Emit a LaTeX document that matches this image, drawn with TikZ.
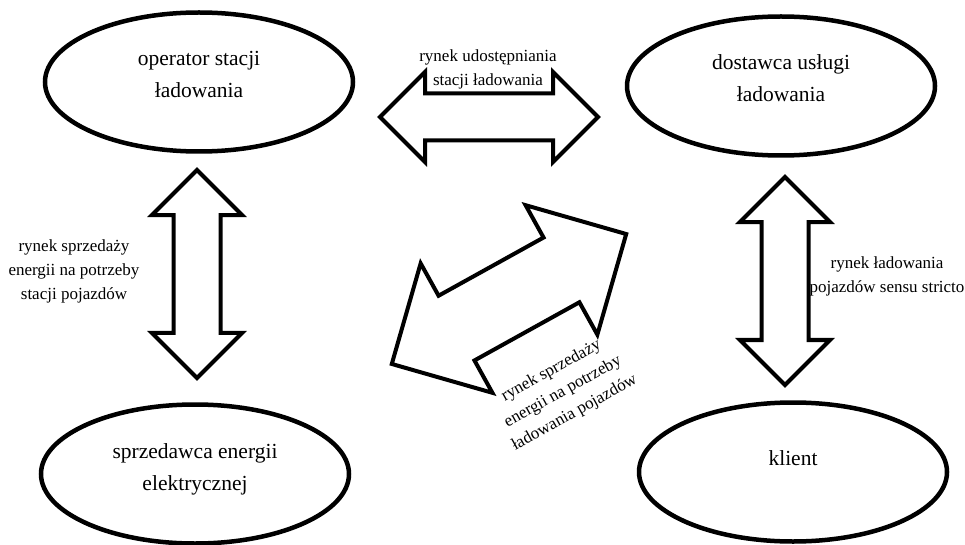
\documentclass[tikz,border=0pt]{standalone}
\usepackage{fontspec}
\setmainfont{Liberation Serif}
\usetikzlibrary{shapes.geometric,shapes.arrows}

\tikzset{
  party/.style={ellipse, draw, line width=4.5pt, minimum width=308pt, minimum height=139pt, inner sep=0pt},
  bigtxt/.style={align=center, inner sep=0pt, font=\fontsize{21.5}{32}\selectfont},
  smalltxt/.style={align=center, inner sep=0pt, font=\fontsize{17}{24}\selectfont},
  market/.style={double arrow, draw, line width=4pt, inner xsep=0pt, inner ysep=21.5pt,
    double arrow tip angle=90, double arrow head extend=21.5pt}
}

\begin{document}
\begin{tikzpicture}[x=1pt, y=-1pt]
\useasboundingbox (0,0) rectangle (965,545);

% market participants
\node[party] (oper) at (199,82) {};
\node[party] (dost) at (781,86) {};
\node[party] (sprz) at (195,474) {};
\node[party] (klient) at (793,472) {};
\node[bigtxt] (operT) at ([yshift=8pt]oper.center) {operator stacji\\ładowania};
\node[bigtxt] (dostT) at ([yshift=8pt]dost.center) {dostawca usługi\\ładowania};
\node[bigtxt] (sprzT) at ([yshift=5pt]sprz.center) {sprzedawca energii\\elektrycznej};
\node[bigtxt] (klientT) at ([yshift=14pt]klient.center) {klient};

% markets between them
\node[market, minimum height=218pt] (rynekUdost) at (489,117) {};
\node[market, minimum height=208pt, rotate=90] (rynekStacji) at (197,274) {};
\node[market, minimum height=208pt, rotate=90] (rynekLad) at (785,281) {};
\node[market, minimum height=268pt, inner ysep=35pt, double arrow head extend=37pt,
  rotate=29] (rynekPoj) at (509,299) {};

% market names
\node[smalltxt] (rynekUdostT) at (488,69) {rynek udostępniania\\stacji ładowania};
\node[smalltxt] (rynekStacjiT) at (74,271) {rynek sprzedaży\\energii na potrzeby\\stacji pojazdów};
\node[smalltxt] (rynekLadT) at (887,276) {rynek ładowania\\pojazdów sensu stricto};
\node[smalltxt, rotate=29] (rynekPojT) at (563,392) {rynek sprzedaży\\energii na potrzeby\\ładowania pojazdów};
\end{tikzpicture}
\end{document}
